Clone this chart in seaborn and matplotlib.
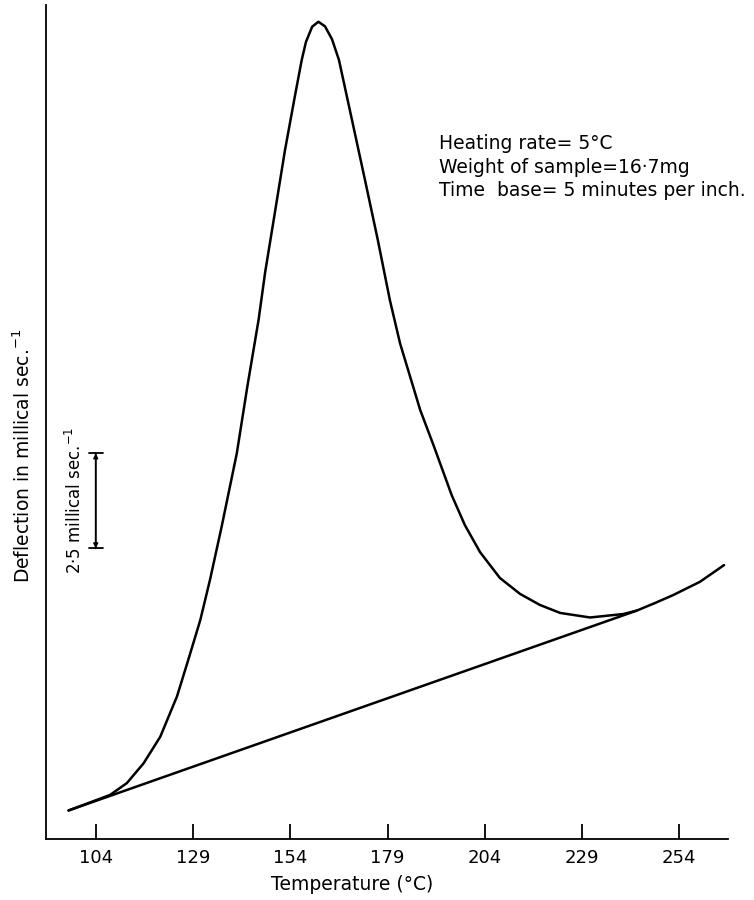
import numpy as np
import pandas as pd
import matplotlib
matplotlib.use('Agg')
import matplotlib.pyplot as plt
import seaborn as sns

# DTA-style trace (temperature in degC, deflection in millical/s)
temp = [96.9, 107.6, 111.9, 116.2, 120.5, 124.8, 127.7, 130.8, 133.3, 136.3,
        140.2, 142.9, 145.8, 147.5, 150.1, 152.6, 155.2, 156.9, 158.0, 159.6,
        161.2, 162.9, 164.7, 166.5, 169.3, 173.2, 176.5, 179.6, 182.2, 184.8,
        187.4, 190.8, 195.5, 198.9, 202.8, 207.9, 213.1, 218.2, 223.4, 231.1,
        239.6, 243.1, 247.8, 252.5, 259.4, 265.6]
deflection = [0.75, 1.16, 1.47, 1.99, 2.69, 3.75, 4.71, 5.76, 6.82, 8.22,
              10.15, 11.90, 13.66, 14.92, 16.55, 18.13, 19.58, 20.50, 20.98, 21.38,
              21.51, 21.39, 21.05, 20.50, 19.18, 17.34, 15.76, 14.18, 13.05, 12.17,
              11.29, 10.37, 9.05, 8.26, 7.55, 6.87, 6.45, 6.16, 5.95, 5.83,
              5.92, 6.01, 6.21, 6.42, 6.77, 7.21]

# straight base line under the peak
base_temp = [96.9, 243.1]
base_defl = [0.75, 6.01]

xticks = [104, 129, 154, 179, 204, 229, 254]

notes = ['Heating rate= 5°C',
         'Weight of sample=16·7mg',
         'Time  base= 5 minutes per inch.']

sns.set_style('white')
plt.rcParams['font.family'] = ['DejaVu Sans']
plt.rcParams['text.color'] = 'black'
plt.rcParams['axes.labelcolor'] = 'black'
plt.rcParams['xtick.color'] = 'black'

fig = plt.figure(figsize=(7.54, 9.0), dpi=100)
ax = fig.add_axes([0.061, 0.0678, 0.9045, 0.9266])

curve = pd.DataFrame({'temp': temp, 'defl': deflection})
sns.lineplot(data=curve, x='temp', y='defl', color='black', linewidth=1.8, ax=ax)
sns.lineplot(x=base_temp, y=base_defl, color='black', linewidth=1.8, ax=ax)

ax.set_xlim(91.1, 266.6)
ax.set_ylim(0, 21.95)
ax.set_xticks(xticks)
ax.set_xticklabels([str(t) for t in xticks])
ax.set_yticks([])
ax.tick_params(axis='x', direction='in', length=11, width=1.3, labelsize=13, pad=7,
               bottom=True, colors='black')

for s in ['top', 'right']:
    ax.spines[s].set_visible(False)
for s in ['left', 'bottom']:
    ax.spines[s].set_color('black')
    ax.spines[s].set_linewidth(1.3)

ax.set_xlabel('Temperature (°C)', fontsize=13.5)
ax.xaxis.set_label_coords(0.449, -0.043)
ax.set_ylabel('Deflection in millical sec.$^{-1}$', fontsize=13.5)
ax.yaxis.set_label_coords(-0.018, 0.46)

# scale bar: 2.5 millical/s
ax.annotate('', xy=(103.9, 7.65), xytext=(103.9, 10.15),
            arrowprops=dict(arrowstyle='|-|', color='black', lw=1.3,
                            shrinkA=0, shrinkB=0, mutation_scale=5))
ax.annotate('', xy=(103.9, 7.65), xytext=(103.9, 10.15),
            arrowprops=dict(arrowstyle='<|-|>', color='black', lw=1.0,
                            shrinkA=0, shrinkB=0, mutation_scale=7))
ax.text(98.6, 8.9, '2·5 millical sec.$^{-1}$', rotation=90, fontsize=12,
        ha='center', va='center')

for i, line in enumerate(notes):
    ax.text(192.3, 18.3 - i * 0.62, line, fontsize=13.5, ha='left', va='center')

fig.savefig('out.png', dpi=100)
